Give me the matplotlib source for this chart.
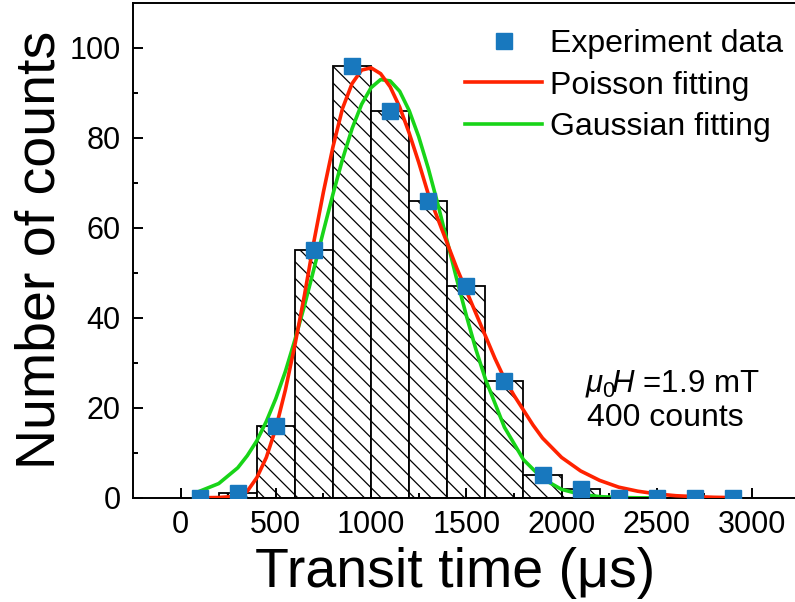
import matplotlib
matplotlib.use('Agg')
import matplotlib.pyplot as plt
import numpy as np

plt.rcParams['font.family'] = ['Liberation Sans', 'DejaVu Sans']
plt.rcParams['mathtext.fontset'] = 'custom'
plt.rcParams['mathtext.rm'] = 'Liberation Sans'
plt.rcParams['mathtext.it'] = 'Liberation Sans:italic'
plt.rcParams['hatch.linewidth'] = 0.9

# histogram of transit times, 200 us bins
bin_edges = [200, 400, 600, 800, 1000, 1200, 1400, 1600, 1800, 2000, 2200]
bin_counts = [1, 16, 55, 96, 86, 66, 47, 26, 5, 2]

# experimental points at bin centres
exp_t = [100, 300, 500, 700, 900, 1100, 1300, 1500, 1700, 1900, 2100, 2300, 2500, 2700, 2900]
exp_n = [0, 1, 16, 55, 96, 86, 66, 47, 26, 5, 2, 0, 0, 0, 0]

# fitted curves
poisson_t = [100, 200, 300, 350, 400, 450, 500, 550, 600, 650, 700, 750, 800, 850, 900, 950,
             1000, 1050, 1100, 1150, 1200, 1250, 1300, 1350, 1400, 1450, 1500, 1550, 1600,
             1650, 1700, 1750, 1800, 1850, 1900, 2000, 2100, 2200, 2300, 2400, 2500, 2600,
             2700, 2800, 2900]
poisson_n = [0.05, 0.1, 0.4, 1.5, 4.5, 9, 15.5, 24, 34, 45, 57, 68, 78, 86.5, 92, 95,
             95.5, 94.2, 91.3, 86.8, 81, 74.5, 67.5, 62, 56.5, 51, 46, 41, 36,
             31, 26.5, 22.8, 19.5, 16.2, 13.3, 9, 6, 3.9, 2.4, 1.5, 0.9, 0.5,
             0.3, 0.15, 0.08]

gauss_t = [100, 200, 300, 350, 400, 450, 500, 550, 600, 650, 700, 750, 800, 850, 900, 950,
           1000, 1050, 1100, 1150, 1200, 1250, 1300, 1350, 1400, 1450, 1500, 1550, 1600,
           1700, 1800, 1900, 2000, 2100, 2200, 2300, 2400, 2500]
gauss_n = [1.5, 3.2, 6.7, 9.4, 12.7, 17, 22.1, 28.1, 35.1, 42.7, 50.9, 59.3, 67.5, 75.2, 82, 87.4,
           91.1, 92.9, 92.6, 90.3, 86, 80.2, 73.2, 65.3, 56.9, 48.5, 40.5, 33, 26.4,
           15.7, 8.5, 4.3, 1.9, 0.8, 0.3, 0.1, 0.04, 0.01]

fig = plt.figure(figsize=(7.95, 6.02), dpi=100)
ax = fig.add_axes([0.1673, 0.1728, 0.8338, 0.8230])

widths = np.diff(bin_edges)
ax.bar(bin_edges[:-1], bin_counts, width=widths, align='edge', facecolor='white',
       edgecolor='black', linewidth=1.3, hatch='\\\\', zorder=1)

ax.plot(poisson_t, poisson_n, color='#FF2200', lw=2.6, label='Poisson fitting', zorder=3)
ax.plot(gauss_t, gauss_n, color='#18D418', lw=2.6, label='Gaussian fitting', zorder=2)
ax.plot(exp_t, exp_n, 's', color='#1878BE', ms=12, label='Experiment data', zorder=4)

handles, labels = ax.get_legend_handles_labels()
order = [2, 0, 1]
ax.legend([handles[i] for i in order], [labels[i] for i in order], loc='upper right',
          bbox_to_anchor=(1.0, 0.972), frameon=False, fontsize=23, handlelength=2.4,
          handletextpad=0.25, labelspacing=0.36, borderaxespad=0)

ax.text(0.682, 0.232, r'$\mu_0\!H$ =1.9 mT', transform=ax.transAxes, fontsize=22.5,
        va='center')
ax.text(0.685, 0.1615, '400 counts', transform=ax.transAxes, fontsize=23, va='center')

ax.set_xlim(-250, 3230)
ax.set_ylim(0, 110)
ax.set_xticks(np.arange(0, 3001, 500))
ax.set_xticks(np.arange(0, 3001, 250), minor=True)
ax.set_yticks(np.arange(0, 101, 20))
ax.set_yticks(np.arange(0, 101, 10), minor=True)
ax.tick_params(which='both', direction='in', width=1.4, labelsize=22)
ax.tick_params(which='major', length=7.5, pad=9)
ax.tick_params(which='minor', length=3.5)
for s in ax.spines.values():
    s.set_linewidth(1.4)

ax.set_xlabel('Transit time (μs)', fontsize=40, labelpad=5)
ax.xaxis.label.set_x(0.486)
ax.set_ylabel('Number of counts', fontsize=40, labelpad=2)

fig.savefig('out.png', dpi=100)
